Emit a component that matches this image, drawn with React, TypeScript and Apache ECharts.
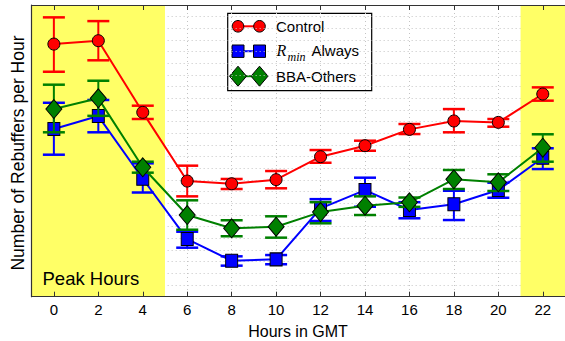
import React, { useEffect, useRef } from "react";
import * as echarts from "echarts";

// Hour of day (GMT) for each measurement
const hours = [0, 2, 4, 6, 8, 10, 12, 14, 16, 18, 20, 22];

// Control
const controlMean = [21.65, 21.94, 15.8, 9.91, 9.68, 10.03, 12.0, 12.94, 14.34, 15.06, 14.94, 17.37];
const controlLow = [19.28, 20.26, 15.23, 8.6, 9.23, 9.29, 11.48, 12.51, 13.94, 14.09, 14.57, 16.8];
const controlHigh = [23.94, 23.62, 16.37, 11.23, 10.09, 10.77, 12.57, 13.37, 14.8, 16.08, 15.23, 17.94];

// R_min Always
const rminMean = [14.37, 15.48, 10.11, 4.94, 3.08, 3.2, 7.57, 9.14, 7.43, 7.92, 9.14, 11.91];
const rminLow = [12.17, 14.09, 8.93, 4.2, 2.66, 2.78, 6.49, 7.71, 6.72, 6.57, 8.48, 10.94];
const rminHigh = [16.62, 16.86, 11.43, 5.57, 3.46, 3.57, 8.36, 10.2, 8.1, 9.08, 9.77, 12.72];

// BBA-Others
const bbaMean = [16.08, 17.0, 11.09, 7.0, 5.86, 6.0, 7.25, 7.8, 8.09, 10.06, 9.8, 12.77];
const bbaLow = [14.09, 15.5, 10.63, 5.74, 5.18, 5.06, 6.29, 7.0, 7.7, 9.23, 9.06, 11.57];
const bbaHigh = [18.17, 18.51, 11.57, 8.26, 6.55, 6.89, 8.1, 8.6, 8.5, 10.86, 10.49, 13.92];

// Peak-hour bands (hours)
const peakRanges: [number, number][] = [
  [-1, 5],
  [21, 23],
];

const tickHours = [0, 2, 4, 6, 8, 10, 12, 14, 16, 18, 20, 22];

const FONT = "'Liberation Sans', Arial, Helvetica, sans-serif";
const RED = "#ff0000";
const BLUE = "#0000ff";
const GREEN = "#008000";
const YELLOW = "#ffff66";

const errorBars = (color: string) => (_params: any, api: any) => {
  const x = api.value(0);
  const lo = api.value(1);
  const hi = api.value(2);
  const top = api.coord([x, hi]);
  const bot = api.coord([x, lo]);
  const hw = 11;
  return {
    type: "group",
    children: [
      { type: "line", shape: { x1: top[0], y1: top[1], x2: bot[0], y2: bot[1] }, style: { stroke: color, lineWidth: 2 } },
      { type: "line", shape: { x1: top[0] - hw, y1: top[1], x2: top[0] + hw, y2: top[1] }, style: { stroke: color, lineWidth: 2.5 } },
      { type: "line", shape: { x1: bot[0] - hw, y1: bot[1], x2: bot[0] + hw, y2: bot[1] }, style: { stroke: color, lineWidth: 2.5 } },
    ],
  };
};

const rows = (a: number[], b: number[]) => hours.map((h, i) => [h, a[i], b[i]]);
const pts = (m: number[]) => hours.map((h, i) => [h, m[i]]);

function legendEntry(y: number, color: string, kind: "circle" | "square" | "diamond") {
  const xs = [238, 259.5];
  const items: any[] = [
    { type: "line", shape: { x1: xs[0], y1: y, x2: xs[1], y2: y }, style: { stroke: color, lineWidth: 2 } },
  ];
  xs.forEach((cx) => {
    if (kind === "circle") {
      items.push({ type: "circle", shape: { cx, cy: y, r: 5.8 }, style: { fill: color, stroke: "#000", lineWidth: 1 } });
    } else if (kind === "square") {
      items.push({ type: "rect", shape: { x: cx - 6, y: y - 6.2, width: 12, height: 12.4 }, style: { fill: color, stroke: "#000", lineWidth: 1 } });
    } else {
      items.push({
        type: "polygon",
        shape: { points: [[cx, y - 10], [cx + 8.5, y], [cx, y + 10], [cx - 8.5, y]] },
        style: { fill: color, stroke: "#000", lineWidth: 1 },
      });
    }
  });
  return items;
}

export default function App() {
  const ref = useRef<HTMLDivElement>(null);

  useEffect(() => {
    if (!ref.current) return;
    document.body.style.margin = "0";
    const chart = echarts.init(ref.current, undefined, { renderer: "svg" });

    const axisCommon = {
      type: "value",
      min: -1,
      max: 23,
      z: 1,
    };

    const option: any = {
      animation: false,
      backgroundColor: "#ffffff",
      grid: { left: 31.65, right: -3.05, top: 5, bottom: 44.3 },
      xAxis: [
        {
          ...axisCommon,
          position: "bottom",
          axisLine: { show: true, onZero: false, lineStyle: { color: "#333", width: 1.2 } },
          axisTick: { show: true, inside: true, length: 5, customValues: tickHours, lineStyle: { color: "#333" } },
          axisLabel: { customValues: tickHours, color: "#000", fontSize: 15, fontFamily: FONT, margin: 5 },
          splitLine: { show: true, lineStyle: { color: "#c4c4c4", type: [1, 3], width: 1 } },
        },
        {
          ...axisCommon,
          position: "top",
          axisLine: { show: true, onZero: false, lineStyle: { color: "#333", width: 1.2 } },
          axisTick: { show: true, inside: true, length: 5, customValues: tickHours, lineStyle: { color: "#333" } },
          axisLabel: { show: false },
          splitLine: { show: false },
        },
      ],
      yAxis: {
        type: "value",
        min: 0,
        max: 25,
        interval: 1,
        z: 1,
        position: "left",
        axisLine: { show: true, onZero: false, lineStyle: { color: "#333", width: 1.2 } },
        axisTick: { show: false },
        axisLabel: { show: false },
        splitLine: { show: true, lineStyle: { color: "#c4c4c4", type: [1, 3], width: 1 } },
      },
      series: [
        {
          type: "line",
          data: [],
          z: 0,
          silent: true,
          markArea: {
            silent: true,
            itemStyle: { color: YELLOW, opacity: 1 },
            data: peakRanges.map(([a, b]) => [{ xAxis: a }, { xAxis: b }]),
          },
        },
        {
          type: "custom",
          z: 3,
          renderItem: errorBars(RED),
          encode: { x: 0, y: [1, 2] },
          data: rows(controlLow, controlHigh),
        },
        {
          name: "Control",
          type: "line",
          z: 4,
          data: pts(controlMean),
          symbol: "circle",
          symbolSize: 12,
          itemStyle: { color: RED, borderColor: "#000", borderWidth: 1 },
          lineStyle: { color: RED, width: 2 },
        },
        {
          type: "custom",
          z: 5,
          renderItem: errorBars(BLUE),
          encode: { x: 0, y: [1, 2] },
          data: rows(rminLow, rminHigh),
        },
        {
          name: "Rmin Always",
          type: "line",
          z: 6,
          data: pts(rminMean),
          symbol: "rect",
          symbolSize: [12, 13],
          itemStyle: { color: BLUE, borderColor: "#000", borderWidth: 1 },
          lineStyle: { color: BLUE, width: 2 },
        },
        {
          type: "custom",
          z: 7,
          renderItem: errorBars(GREEN),
          encode: { x: 0, y: [1, 2] },
          data: rows(bbaLow, bbaHigh),
        },
        {
          name: "BBA-Others",
          type: "line",
          z: 8,
          data: pts(bbaMean),
          symbol: "diamond",
          symbolSize: [16, 19],
          itemStyle: { color: GREEN, borderColor: "#000", borderWidth: 1 },
          lineStyle: { color: GREEN, width: 2 },
        },
      ],
      graphic: [
        {
          type: "text",
          z: 50,
          x: 18,
          y: 153,
          rotation: Math.PI / 2,
          style: {
            text: "Number of Rebuffers per Hour",
            font: `17.5px ${FONT}`,
            fill: "#000",
            align: "center",
            verticalAlign: "middle",
          },
        },
        {
          type: "text",
          z: 50,
          x: 298,
          y: 331,
          style: { text: "Hours in GMT", font: `16px ${FONT}`, fill: "#000", align: "center", verticalAlign: "middle" },
        },
        {
          type: "text",
          z: 50,
          x: 42.5,
          y: 278.5,
          style: { text: "Peak Hours", font: `18.5px ${FONT}`, fill: "#000", align: "left", verticalAlign: "middle" },
        },
        {
          type: "group",
          z: 100,
          children: [
            {
              type: "rect",
              shape: { x: 227.7, y: 13.3, width: 144, height: 77.4 },
              style: { fill: "#fff", stroke: "#000", lineWidth: 1.2 },
            },
            ...legendEntry(26.3, RED, "circle"),
            ...legendEntry(51.2, BLUE, "square"),
            ...legendEntry(76.2, GREEN, "diamond"),
            {
              type: "text",
              x: 276,
              y: 26.4,
              style: { text: "Control", font: `15px ${FONT}`, fill: "#000", align: "left", verticalAlign: "middle" },
            },
            {
              type: "text",
              x: 276.5,
              y: 50.4,
              style: { text: "R", font: `italic 16px 'Liberation Serif', 'DejaVu Serif', serif`, fill: "#000", align: "left", verticalAlign: "middle" },
            },
            {
              type: "text",
              x: 287.5,
              y: 56.5,
              style: { text: "min", font: `italic 12px 'Liberation Serif', 'DejaVu Serif', serif`, fill: "#000", align: "left", verticalAlign: "middle" },
            },
            {
              type: "text",
              x: 311.5,
              y: 50.4,
              style: { text: "Always", font: `15px ${FONT}`, fill: "#000", align: "left", verticalAlign: "middle" },
            },
            {
              type: "text",
              x: 276,
              y: 76.4,
              style: { text: "BBA-Others", font: `15px ${FONT}`, fill: "#000", align: "left", verticalAlign: "middle" },
            },
          ],
        },
      ],
    };

    chart.setOption(option);
    return () => chart.dispose();
  }, []);

  return (
    <div
      ref={ref}
      style={{ position: "fixed", left: 0, top: 0, width: 565, height: 341, background: "#fff" }}
    />
  );
}
